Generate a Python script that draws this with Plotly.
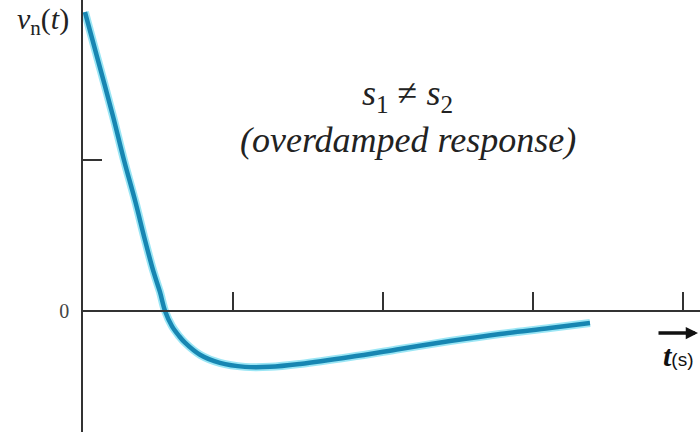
import plotly.graph_objects as go

# Overdamped natural response v_n(t), sampled along the curve
t_s = [0.013, 0.10, 0.20, 0.273, 0.35, 0.413, 0.47, 0.513, 0.547, 0.593, 0.64, 0.68,
       0.78, 0.913, 1.08, 1.247, 1.447, 1.78, 2.113, 2.447, 2.78, 3.113, 3.38]
v_n = [1.98, 1.66, 1.29, 1.00, 0.72, 0.47, 0.26, 0.126, 0.0, -0.10, -0.165, -0.21,
       -0.29, -0.344, -0.37, -0.37, -0.351, -0.305, -0.252, -0.199, -0.152, -0.113, -0.079]

x_ticks = [1, 2, 3, 4]
y_ticks = [0, 1]
y_tick_text = ["0", ""]

W, H = 700, 432
x0_px, y0_px = 83, 311      # pixel position of the origin
px_per_t, px_per_v = 150, 151

fig = go.Figure()
# soft halo under the response curve
fig.add_trace(go.Scatter(x=t_s, y=v_n, mode="lines", line=dict(color="#9be6f5", width=8, shape="spline"),
                         hoverinfo="skip", showlegend=False))
fig.add_trace(go.Scatter(x=t_s, y=v_n, mode="lines", line=dict(color="#1786b2", width=4.5, shape="spline"),
                         showlegend=False))

axis_col = "#333333"
fig.update_layout(
    width=W, height=H,
    margin=dict(l=0, r=0, t=0, b=0),
    paper_bgcolor="white", plot_bgcolor="white",
    xaxis=dict(domain=[x0_px / W, 1], range=[0, (W - x0_px) / px_per_t],
               anchor="free", position=1 - y0_px / H,
               showgrid=False, zeroline=False, showline=True, linecolor=axis_col, linewidth=1.5,
               ticks="inside", ticklen=18, tickwidth=1.5, tickcolor=axis_col,
               tickvals=x_ticks, showticklabels=False),
    yaxis=dict(domain=[0, 1], range=[-(H - y0_px) / px_per_v, y0_px / px_per_v], anchor="x",
               showgrid=False, zeroline=False, showline=True, linecolor=axis_col, linewidth=1.5,
               ticks="inside", ticklen=19, tickwidth=1.5, tickcolor=axis_col,
               tickvals=y_ticks, ticktext=y_tick_text, ticklabelstandoff=8,
               tickfont=dict(family="Liberation Serif", size=20, color="#444444")),
)

serif = "Liberation Serif"
fig.add_annotation(xref="paper", yref="paper", x=407 / W, y=1 - 95 / H, xanchor="center", yanchor="middle",
                   text="<i>s</i><sub>1</sub> \u2260 <i>s</i><sub>2</sub>", showarrow=False,
                   font=dict(family=serif, size=36, color="#222222"))
fig.add_annotation(xref="paper", yref="paper", x=408 / W, y=1 - 140 / H, xanchor="center", yanchor="middle",
                   text="<i>(overdamped response)</i>", showarrow=False,
                   font=dict(family=serif, size=36, color="#222222"))
# y-axis label in the top-left corner
fig.add_annotation(xref="paper", yref="paper", x=15 / W, y=1 - 42 / H, xanchor="left", yanchor="bottom",
                   text="<i>v</i><sub>n</sub>(<i>t</i>)", showarrow=False,
                   font=dict(family=serif, size=30, color="#222222"))
# time axis arrow and unit
fig.add_annotation(xref="paper", yref="paper", x=698 / W, y=1 - 333 / H, ax=-41, ay=0,
                   text="", showarrow=True, arrowhead=2, arrowsize=0.7, arrowwidth=3.5, arrowcolor="#111111")
fig.add_annotation(xref="paper", yref="paper", x=678 / W, y=1 - 355 / H, xanchor="center", yanchor="middle",
                   text="<b><i>t</i></b><span style='font-family:Liberation Sans;font-size:19px'>(s)</span>",
                   showarrow=False, font=dict(family=serif, size=30, color="#111111"))

fig.write_html("out.html")
